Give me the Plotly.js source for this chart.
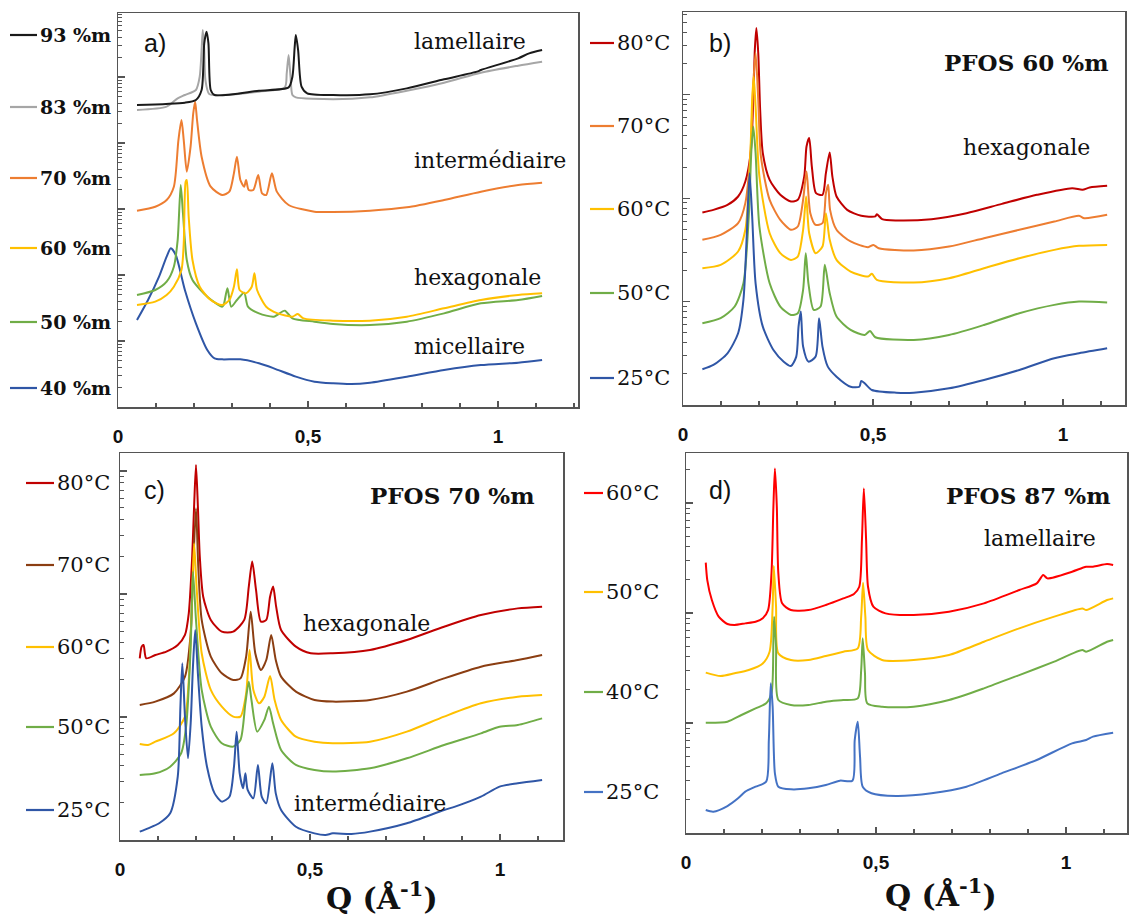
<!DOCTYPE html>
<html><head><meta charset="utf-8">
<script src="https://cdn.plot.ly/plotly-3.0.1.min.js"></script>
<style>html,body{margin:0;padding:0;background:#fff}#chart{width:1131px;height:918px}</style>
</head><body><div id="chart"></div>
<script>
// ---------- Panel a : composition series (Q in Å^-1, log10 intensity, arb. units) ----------
const a93q = [.050,.176,.205,.220,.227,.233,.238,.244,.254,.371,.449,.459,.465,.468,.474,.483,.498,.566,.663,.760,.858,.945,.955,1.053,1.082,1.116];
const a93v = [4.576,4.611,4.652,4.803,5.510,5.687,5.510,4.803,4.727,4.793,4.843,5.005,5.460,5.636,5.409,4.854,4.753,4.727,4.737,4.828,4.965,5.081,5.106,5.283,5.359,5.409];
const a83q = [.050,.128,.157,.176,.205,.215,.220,.223,.227,.230,.240,.274,.371,.439,.444,.449,.454,.459,.468,.566,.663,.760,.858,.955,1.053,1.116];
const a83v = [4.500,4.551,4.677,4.727,4.803,5.005,5.409,5.712,5.409,4.955,4.742,4.727,4.778,4.843,5.056,5.333,5.005,4.727,4.692,4.662,4.692,4.793,4.914,5.066,5.172,5.232];
const a70q = [.050,.098,.128,.147,.159,.167,.173,.181,.191,.198,.203,.208,.220,.244,.274,.293,.305,.313,.322,.332,.337,.344,.356,.369,.379,.390,.405,.418,.449,.517,.566,.663,.760,.858,.955,1.053,1.116];
const a70v = [2.975,3.035,3.136,3.338,4.045,4.348,4.045,3.566,3.944,4.449,4.626,4.348,3.793,3.338,3.212,3.263,3.540,3.793,3.439,3.338,3.439,3.288,3.288,3.515,3.237,3.212,3.540,3.263,3.061,2.960,2.955,2.975,3.025,3.136,3.263,3.364,3.399];
const a60q = [.050,.098,.128,.147,.167,.173,.178,.181,.186,.196,.215,.244,.274,.293,.305,.313,.320,.337,.352,.359,.366,.390,.420,.459,.473,.488,.566,.663,.760,.858,.955,1.053,1.116];
const a60v = [1.545,1.596,1.697,1.823,2.076,2.480,3.414,3.439,2.884,2.227,1.823,1.621,1.545,1.621,1.823,2.086,1.773,1.722,1.823,2.025,1.773,1.520,1.419,1.369,1.409,1.343,1.308,1.308,1.369,1.495,1.621,1.697,1.722];
const a50q = [.050,.098,.128,.147,.157,.165,.171,.181,.196,.235,.274,.278,.288,.298,.313,.332,.342,.371,.410,.439,.459,.517,.566,.663,.760,.858,.955,1.053,1.116];
const a50v = [1.697,1.773,1.899,2.126,2.530,3.364,2.934,2.227,1.924,1.672,1.520,1.545,1.798,1.520,1.621,1.732,1.520,1.419,1.369,1.460,1.343,1.293,1.258,1.242,1.293,1.419,1.571,1.621,1.682];
const a40q = [.050,.079,.108,.128,.139,.152,.176,.205,.235,.254,.274,.322,.371,.410,.468,.517,.566,.614,.663,.760,.858,.955,1.053,1.116];
const a40v = [1.318,1.621,1.975,2.278,2.404,2.303,1.773,1.268,0.864,0.737,0.722,0.722,0.662,0.586,0.460,0.384,0.359,0.348,0.369,0.460,0.561,0.636,0.672,0.712];

// ---------- Panel b : PFOS 60 %m, temperatures ----------
const b80q = [.051,.080,.117,.145,.164,.178,.185,.189,.193,.198,.203,.210,.228,.256,.284,.302,.319,.325,.332,.339,.350,.367,.376,.386,.393,.404,.432,.469,.506,.510,.524,.561,.654,.746,.839,.931,1.024,1.051,1.070,1.116];
const b80v = [1.861,1.887,1.935,2.016,2.161,2.435,2.952,3.435,3.645,3.403,2.855,2.435,2.177,2.032,1.968,1.984,2.210,2.500,2.581,2.306,2.048,2.032,2.242,2.442,2.210,2.016,1.887,1.829,1.823,1.845,1.797,1.784,1.797,1.855,1.945,2.032,2.097,2.081,2.103,2.119];
const b70q = [.051,.099,.145,.164,.178,.185,.191,.198,.205,.228,.256,.284,.302,.316,.325,.335,.349,.367,.376,.382,.387,.404,.441,.487,.501,.515,.607,.700,.792,.885,.977,1.042,1.056,1.116];
const b70v = [1.597,1.645,1.758,1.952,2.468,3.113,3.403,2.952,2.403,1.984,1.790,1.694,1.726,1.984,2.258,1.855,1.742,1.758,2.048,2.129,1.887,1.694,1.581,1.526,1.548,1.516,1.494,1.532,1.613,1.694,1.774,1.829,1.806,1.839];
const b60q = [.051,.099,.145,.164,.176,.182,.186,.191,.201,.228,.256,.284,.302,.316,.324,.332,.349,.367,.376,.386,.404,.441,.487,.497,.510,.607,.700,.792,.885,.977,1.042,1.116];
const b60v = [1.323,1.355,1.484,1.694,2.306,2.952,3.177,2.887,2.210,1.661,1.468,1.403,1.435,1.694,2.016,1.661,1.468,1.532,1.855,1.597,1.403,1.290,1.242,1.268,1.210,1.184,1.226,1.323,1.419,1.500,1.539,1.548];
const b50q = [.051,.099,.136,.159,.173,.180,.185,.191,.201,.228,.256,.284,.302,.316,.323,.330,.344,.362,.373,.386,.404,.441,.478,.492,.506,.607,.700,.792,.885,.977,1.042,1.116];
const b50v = [0.790,0.839,0.952,1.177,1.823,2.468,2.694,2.435,1.726,1.177,0.952,0.871,0.887,1.113,1.468,1.177,0.919,0.952,1.355,1.081,0.855,0.726,0.677,0.716,0.655,0.629,0.677,0.774,0.887,0.968,1.000,0.990];
const b25q = [.051,.080,.117,.145,.159,.168,.175,.182,.191,.210,.238,.265,.284,.298,.304,.310,.316,.330,.349,.358,.367,.381,.404,.441,.464,.469,.478,.497,.561,.607,.700,.792,.885,.977,1.042,1.116];
const b25v = [0.345,0.387,0.500,0.694,1.016,1.661,2.242,1.823,1.177,0.758,0.532,0.419,0.377,0.468,0.758,0.903,0.565,0.419,0.468,0.839,0.565,0.371,0.274,0.177,0.177,0.232,0.210,0.145,0.119,0.119,0.161,0.242,0.339,0.452,0.500,0.548];

// ---------- Panel c : PFOS 70 %m, temperatures ----------
const c80q = [.052,.057,.062,.069,.093,.122,.152,.171,.181,.190,.195,.200,.205,.210,.219,.239,.268,.298,.327,.339,.348,.358,.371,.385,.395,.403,.411,.424,.463,.502,.560,.658,.755,.853,.950,1.047,1.111];
const c80v = [1.477,1.572,1.585,1.477,1.504,1.531,1.585,1.667,1.843,2.304,2.710,3.049,2.710,2.304,1.978,1.789,1.694,1.694,1.789,2.060,2.263,2.033,1.775,1.789,1.978,2.060,1.897,1.707,1.572,1.518,1.518,1.545,1.626,1.734,1.829,1.883,1.897];
const c70q = [.052,.093,.142,.171,.186,.192,.200,.206,.215,.239,.268,.298,.317,.332,.344,.356,.371,.385,.398,.410,.424,.463,.512,.560,.658,.755,.853,.950,1.047,1.111];
const c70v = [1.098,1.125,1.192,1.328,1.680,2.168,2.696,2.222,1.789,1.491,1.355,1.301,1.314,1.491,1.856,1.518,1.382,1.463,1.667,1.463,1.328,1.206,1.138,1.125,1.138,1.206,1.314,1.409,1.463,1.504];
const c60q = [.052,.074,.093,.142,.171,.181,.189,.195,.202,.215,.239,.268,.298,.317,.332,.341,.351,.366,.380,.395,.407,.424,.463,.512,.560,.658,.755,.853,.950,1.047,1.111];
const c60v = [0.780,0.772,0.799,0.867,1.003,1.301,1.897,2.412,2.033,1.518,1.220,1.084,1.003,1.003,1.192,1.545,1.220,1.111,1.165,1.333,1.138,0.976,0.840,0.799,0.786,0.799,0.881,1.003,1.111,1.165,1.179];
const c50q = [.052,.093,.132,.161,.174,.186,.192,.200,.215,.239,.268,.298,.317,.330,.339,.346,.361,.380,.392,.403,.424,.463,.512,.560,.658,.755,.853,.950,.999,1.047,1.111];
const c50v = [0.528,0.542,0.596,0.705,0.921,1.572,2.182,1.789,1.220,0.921,0.786,0.759,0.813,1.111,1.287,1.138,0.881,0.976,1.084,0.949,0.732,0.610,0.569,0.556,0.583,0.664,0.772,0.867,0.921,0.935,0.989];
const c25q = [.052,.074,.103,.132,.152,.159,.164,.171,.179,.186,.192,.198,.205,.215,.229,.249,.268,.288,.300,.307,.315,.324,.330,.336,.351,.363,.373,.385,.401,.410,.424,.463,.512,.541,.560,.609,.658,.755,.853,.882,.950,.999,1.047,1.111];
const c25v = [0.068,0.095,0.136,0.217,0.515,1.084,1.436,1.003,0.664,0.949,1.409,1.707,1.355,0.921,0.596,0.379,0.312,0.352,0.596,0.881,0.542,0.420,0.542,0.407,0.339,0.610,0.352,0.298,0.623,0.379,0.244,0.108,0.054,0.041,0.054,0.049,0.068,0.136,0.244,0.271,0.352,0.434,0.461,0.488];

// ---------- Panel d : PFOS 87 %m, temperatures ----------
const d60q = [.052,.056,.068,.086,.109,.128,.156,.183,.202,.216,.225,.230,.234,.239,.243,.253,.276,.322,.368,.414,.442,.456,.463,.468,.474,.479,.493,.525,.599,.692,.784,.877,.923,.940,.951,1.016,1.053,1.071,1.108,1.124];
const d60v = [2.458,2.300,2.118,1.967,1.900,1.891,1.906,1.921,1.952,2.027,2.361,2.967,3.315,2.967,2.361,2.088,2.027,2.027,2.073,2.133,2.173,2.239,2.664,3.133,2.664,2.239,2.058,1.997,1.982,2.012,2.088,2.209,2.270,2.345,2.315,2.376,2.421,2.421,2.445,2.436];
const d50q = [.052,.091,.128,.165,.202,.220,.228,.231,.237,.243,.276,.322,.368,.414,.452,.461,.466,.472,.479,.516,.599,.692,.784,.877,.969,1.043,1.053,1.108,1.124];
const d50v = [1.458,1.427,1.452,1.482,1.542,1.648,2.058,2.427,2.058,1.633,1.573,1.573,1.609,1.648,1.679,1.967,2.276,1.967,1.664,1.573,1.573,1.618,1.739,1.861,1.967,2.042,2.027,2.118,2.133];
const d40q = [.052,.109,.146,.183,.211,.225,.230,.232,.237,.243,.276,.322,.368,.414,.452,.461,.465,.471,.477,.516,.599,.692,.784,.877,.969,1.043,1.053,1.108,1.124];
const d40v = [1.003,1.012,1.073,1.133,1.179,1.270,1.755,1.967,1.694,1.209,1.164,1.164,1.194,1.209,1.224,1.482,1.770,1.452,1.179,1.148,1.148,1.209,1.315,1.436,1.558,1.664,1.648,1.739,1.755];
const d25q = [.052,.072,.109,.137,.156,.183,.211,.218,.223,.228,.234,.243,.276,.322,.368,.405,.438,.444,.452,.458,.465,.488,.553,.646,.738,.830,.923,1.016,1.053,1.071,1.124];
const d25v = [0.209,0.194,0.245,0.315,0.376,0.421,0.467,0.845,1.361,1.148,0.542,0.421,0.397,0.406,0.436,0.476,0.476,0.845,1.012,0.694,0.421,0.361,0.336,0.361,0.421,0.542,0.664,0.815,0.845,0.876,0.912];

// ---------- Labels ----------
const aLabels = ['93 %m','83 %m','70 %m','60 %m','50 %m','40 %m'];
const bLabels = ['80°C','70°C','60°C','50°C','25°C'];
const cLabels = ['80°C','70°C','60°C','50°C','25°C'];
const dLabels = ['60°C','50°C','40°C','25°C'];

// ---------- Styling ----------
const aColors = ['#1a1a1a','#a6a6a6','#ed7d31','#ffc000','#70ad47','#2f56a6'];
const bColors = ['#c00000','#ed7d31','#ffc000','#70ad47','#2f56a6'];
const cColors = ['#c00000','#8b3e12','#ffc000','#70ad47','#2f56a6'];
const dColors = ['#ff0000','#ffc000','#70ad47','#4472c4'];

const W = 1131, H = 918;
const px = x => x / W, py = y => 1 - y / H;

function tr(q, v, color, n) {
  return {x: q, y: v.map(t => Math.pow(10, t)), mode: 'lines', type: 'scatter',
          line: {color: color, width: 2, shape: 'spline', smoothing: 0.7},
          xaxis: 'x' + (n > 1 ? n : ''), yaxis: 'y' + (n > 1 ? n : ''),
          hoverinfo: 'skip', showlegend: false};
}

const traces = [
  tr(a40q, a40v, aColors[5], 1), tr(a50q, a50v, aColors[4], 1), tr(a60q, a60v, aColors[3], 1),
  tr(a70q, a70v, aColors[2], 1), tr(a83q, a83v, aColors[1], 1), tr(a93q, a93v, aColors[0], 1),
  tr(b80q, b80v, bColors[0], 2), tr(b70q, b70v, bColors[1], 2), tr(b60q, b60v, bColors[2], 2),
  tr(b50q, b50v, bColors[3], 2), tr(b25q, b25v, bColors[4], 2),
  tr(c80q, c80v, cColors[0], 3), tr(c70q, c70v, cColors[1], 3), tr(c60q, c60v, cColors[2], 3),
  tr(c50q, c50v, cColors[3], 3), tr(c25q, c25v, cColors[4], 3),
  tr(d60q, d60v, dColors[0], 4), tr(d50q, d50v, dColors[1], 4), tr(d40q, d40v, dColors[2], 4),
  tr(d25q, d25v, dColors[3], 4)
];

const axCol = '#555555';
function xax(x0, x1, y, xmax) {
  return {domain: [px(x0), px(x1)], anchor: y, range: [0, xmax], showgrid: false, zeroline: false,
          showline: true, mirror: true, linecolor: axCol, linewidth: 1.5,
          ticks: 'inside', ticklen: 6, tickwidth: 1.3, tickcolor: axCol, dtick: 0.5, tick0: 0,
          ticklabelstandoff: 12,
          tickfont: {family: 'Liberation Sans, Arial, sans-serif', size: 19, color: '#111', weight: 'bold'},
          minor: {ticks: 'inside', ticklen: 4, tickwidth: 1.2, tickcolor: axCol, dtick: 0.1, tick0: 0}};
}
function yax(yTop, yBot, x, ymax) {
  return {domain: [py(yBot), py(yTop)], anchor: x, type: 'log', range: [0, ymax], showgrid: false, zeroline: false,
          showline: true, mirror: true, linecolor: axCol, linewidth: 1.5,
          ticks: 'inside', ticklen: 7, tickwidth: 1.2, tickcolor: axCol, dtick: 1, showticklabels: false,
          minor: {ticks: 'inside', ticklen: 4, tickwidth: 1, tickcolor: axCol, dtick: 'D1'}};
}

const serif = 'DejaVu Serif, serif';
const ann = [];
const shapes = [];
function legendBlock(labels, colors, x0, x1, ys, bold, size) {
  labels.forEach((t, i) => {
    shapes.push({type: 'line', xref: 'paper', yref: 'paper', x0: px(x0), x1: px(x1), y0: py(ys[i]), y1: py(ys[i]),
                 line: {color: colors[i], width: 2.2}});
    ann.push({text: t, xref: 'paper', yref: 'paper', x: px(x1 + 1), y: py(ys[i]), xanchor: 'left', yanchor: 'middle',
              showarrow: false, font: {family: serif, size: size, color: '#111', weight: bold ? 'bold' : 'normal'}});
  });
}
legendBlock(aLabels, aColors, 10, 37, [35, 107, 178, 248, 322, 388], true, 19);
legendBlock(bLabels, bColors, 590, 614, [43, 126, 209, 293, 378], false, 21);
legendBlock(cLabels, cColors, 26, 54, [483, 565, 647, 727, 810], false, 21);
legendBlock(dLabels, dColors, 584, 603, [493, 592, 692, 792], false, 21);

function txt(t, x, y, anchor, font) {
  ann.push({text: t, xref: 'paper', yref: 'paper', x: px(x), y: py(y), xanchor: anchor, yanchor: 'middle',
            showarrow: false, font: font});
}
const lbl = {family: 'Liberation Sans, Arial, sans-serif', size: 25, color: '#111'};
const phase = {family: serif, size: 22, color: '#111'};
const pfos = {family: serif, size: 23, color: '#111', weight: 'bold'};
txt('a)', 155, 43, 'center', lbl);
txt('b)', 720, 43, 'center', lbl);
txt('c)', 154, 490, 'center', lbl);
txt('d)', 720, 490, 'center', lbl);
txt('lamellaire', 412, 42, 'left', phase);
txt('intermédiaire', 412, 161, 'left', phase);
txt('hexagonale', 412, 278, 'left', phase);
txt('micellaire', 412, 346, 'left', phase);
txt('PFOS 60 %m', 1110, 62, 'right', pfos);
txt('hexagonale', 961, 148, 'left', phase);
txt('PFOS 70 %m', 536, 495, 'right', pfos);
txt('hexagonale', 301, 623, 'left', phase);
txt('intermédiaire', 292, 803, 'left', phase);
txt('PFOS 87 %m', 1112, 495, 'right', pfos);
txt('lamellaire', 982, 538, 'left', phase);
const qFont = {family: serif, size: 30, color: '#111', weight: 'bold'};
txt('Q (Å<sup>-1</sup>)', 382, 896, 'center', qFont);
txt('Q (Å<sup>-1</sup>)', 941, 893, 'center', qFont);

const layout = {
  width: W, height: H, margin: {l: 0, r: 0, t: 0, b: 0}, paper_bgcolor: '#fff', plot_bgcolor: '#fff',
  separators: ', ', showlegend: false,
  xaxis: xax(118, 578, 'y', 1.2105), yaxis: yax(13, 407, 'x', 5.97),
  xaxis2: xax(683, 1125, 'y2', 1.163), yaxis2: yax(12, 405, 'x2', 3.8),
  xaxis3: xax(120, 563, 'y3', 1.166), yaxis3: yax(453, 840, 'x3', 3.146),
  xaxis4: xax(686, 1127, 'y4', 1.1605), yaxis4: yax(453, 833, 'x4', 3.455),
  annotations: ann, shapes: shapes
};
Plotly.newPlot('chart', traces, layout, {displayModeBar: false, staticPlot: true});
</script></body></html>
